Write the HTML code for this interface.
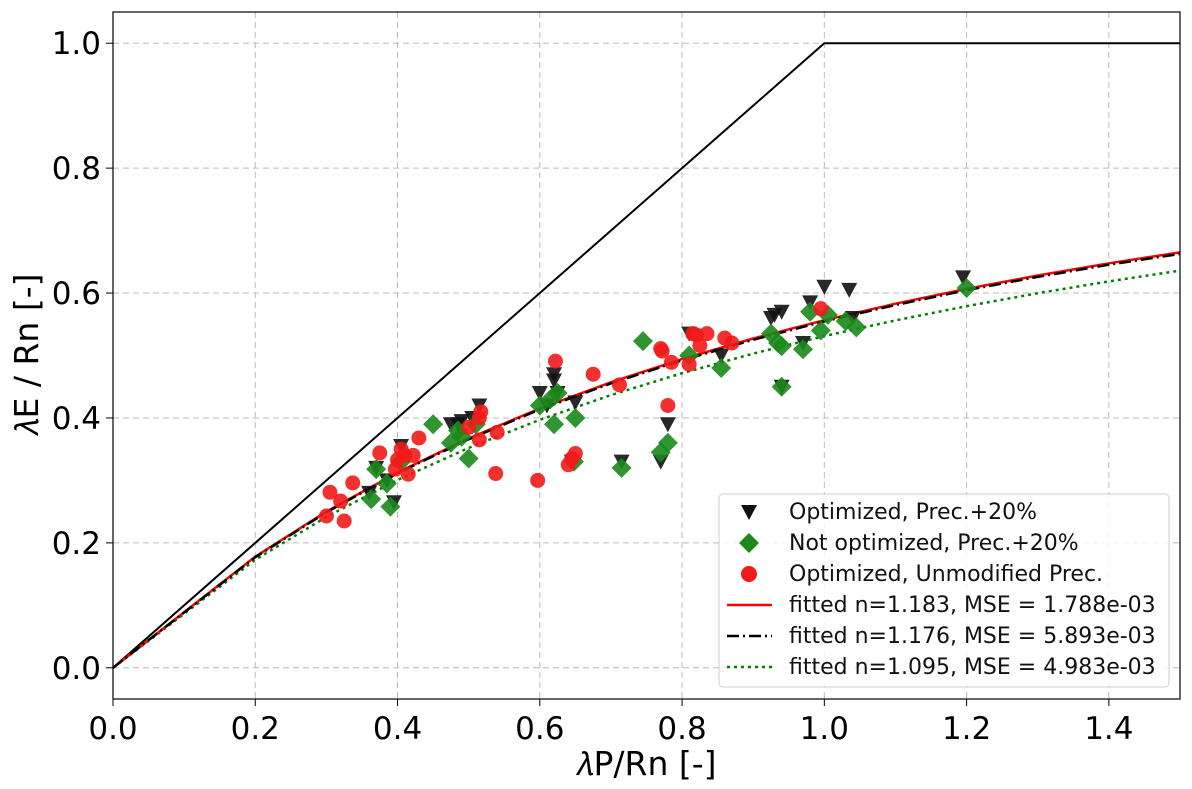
<!DOCTYPE html>
<html><head><meta charset="utf-8"><style>
body{margin:0;background:#fff}
svg{display:block;font-family:"DejaVu Sans","Liberation Sans",sans-serif}
</style></head><body>
<svg id="chart" width="1192" height="789" viewBox="0 0 1192 789" xmlns="http://www.w3.org/2000/svg">
<g id="grid"></g>
<g id="lines"></g>
<g id="points"></g>
<rect x="113" y="12" width="1067" height="687" fill="none" stroke="#000" stroke-width="1.2"/>
<g id="ticks"></g>
<text x="646" y="775" font-size="33" text-anchor="middle">𝜆P/Rn  [-]</text>
<text transform="translate(38,355) rotate(-90)" font-size="33" text-anchor="middle">𝜆E / Rn [-]</text>
<g>
<rect x="719" y="494" width="450" height="193" rx="4" fill="#fff" fill-opacity="0.85" stroke="#ccc"/>
<path d="M741,505 L757,505 L749,520 Z" fill="#111"/>
<path d="M749,533 L759,543 L749,553 L739,543 Z" fill="#1a8a1a"/>
<circle cx="749" cy="574" r="8" fill="#f21a1a"/>
<line x1="727" y1="605" x2="772" y2="605" stroke="red" stroke-width="2.5"/>
<line x1="727" y1="636" x2="772" y2="636" stroke="#000" stroke-width="2.5" stroke-dasharray="12,4,2,4"/>
<line x1="727" y1="667" x2="772" y2="667" stroke="green" stroke-width="2.5" stroke-dasharray="3,4"/>
<g font-size="22" fill="#111">
<text x="789" y="519">Optimized, Prec.+20%</text>
<text x="789" y="550">Not optimized, Prec.+20%</text>
<text x="789" y="581">Optimized, Unmodified Prec.</text>
<text x="789" y="612">fitted n=1.183, MSE = 1.788e-03</text>
<text x="789" y="643">fitted n=1.176, MSE = 5.893e-03</text>
<text x="789" y="674">fitted n=1.095, MSE = 4.983e-03</text>
</g></g>
</svg>
<script>
const xTicks=[0,0.2,0.4,0.6,0.8,1.0,1.2,1.4];
const xTickLabels=["0.0","0.2","0.4","0.6","0.8","1.0","1.2","1.4"];
const yTicks=[0,0.2,0.4,0.6,0.8,1.0];
const yTickLabels=["0.0","0.2","0.4","0.6","0.8","1.0"];
const fitX=[0,0.2,0.3,0.4,0.5,0.6,0.7,0.8,0.9,1.0,1.1,1.2,1.3,1.4,1.5];
const fitRed=[0,0.178,0.250,0.3127,0.3673,0.4151,0.4571,0.4942,0.5272,0.5566,0.5830,0.6067,0.6281,0.6477,0.665];
const fitBlack=[0,0.177,0.249,0.3115,0.3658,0.4135,0.4553,0.4923,0.5252,0.5546,0.5808,0.6045,0.6258,0.6454,0.6627];
const fitGreen=[0,0.1731,0.2416,0.3007,0.3521,0.3970,0.4366,0.4717,0.5030,0.5310,0.5562,0.5790,0.5997,0.6187,0.6360];
const oneX=[0,1,1.5];
const oneY=[0,1,1];
const triX=[0.36,0.37,0.385,0.395,0.405,0.475,0.485,0.49,0.505,0.515,0.6,0.62,0.62,0.625,0.65,0.645,0.715,0.77,0.78,0.81,0.855,0.925,0.93,0.94,0.94,0.97,0.98,1.0,1.035,1.04,1.195,0.61];
const triY=[0.28,0.32,0.30,0.265,0.355,0.39,0.39,0.395,0.40,0.42,0.44,0.47,0.46,0.44,0.425,0.33,0.33,0.33,0.39,0.535,0.5,0.56,0.565,0.57,0.45,0.52,0.585,0.61,0.605,0.56,0.625,0.42];
const diaX=[0.363,0.37,0.385,0.39,0.405,0.45,0.475,0.485,0.49,0.5,0.51,0.6,0.615,0.62,0.625,0.65,0.648,0.715,0.745,0.77,0.78,0.81,0.855,0.925,0.935,0.94,0.94,0.97,0.98,0.995,1.005,1.03,1.045,1.2];
const diaY=[0.27,0.318,0.295,0.258,0.33,0.39,0.36,0.38,0.37,0.335,0.39,0.42,0.43,0.39,0.44,0.40,0.33,0.32,0.523,0.345,0.36,0.5,0.48,0.535,0.52,0.515,0.45,0.51,0.57,0.54,0.565,0.555,0.545,0.608];
const cirX=[0.30,0.305,0.32,0.325,0.337,0.375,0.397,0.40,0.405,0.41,0.415,0.422,0.43,0.50,0.515,0.517,0.515,0.54,0.538,0.597,0.622,0.64,0.645,0.65,0.675,0.712,0.77,0.772,0.78,0.785,0.81,0.815,0.82,0.825,0.835,0.86,0.87,0.995];
const cirY=[0.243,0.281,0.267,0.235,0.296,0.344,0.318,0.333,0.35,0.34,0.31,0.34,0.368,0.385,0.365,0.41,0.40,0.377,0.311,0.300,0.491,0.325,0.335,0.343,0.47,0.453,0.511,0.507,0.42,0.489,0.486,0.535,0.533,0.516,0.535,0.528,0.52,0.575];

const NS="http://www.w3.org/2000/svg";
const X=v=>113+(v-0)/1.5*1067;
const Y=v=>699-(v+0.05)/1.1*687;
function mk(tag,attrs,parent){const e=document.createElementNS(NS,tag);for(const k in attrs)e.setAttribute(k,attrs[k]);parent.appendChild(e);return e;}
const grid=document.getElementById('grid'),ticks=document.getElementById('ticks'),lines=document.getElementById('lines'),pts=document.getElementById('points');
xTicks.forEach((t,i)=>{
  const g=mk('line',{x1:X(t),x2:X(t),y1:12,y2:699,stroke:'#bbb','stroke-dasharray':'6,4','stroke-width':1},grid);
  
  
  const tk=mk('line',{x1:X(t),x2:X(t),y1:699,y2:706,stroke:'#000'},ticks);
  
  
  const tx=mk('text',{x:X(t),y:739,'font-size':31,'text-anchor':'middle'},ticks);
  tx.textContent=xTickLabels[i];
  
  
});
yTicks.forEach((t,i)=>{
  const g=mk('line',{x1:113,x2:1180,y1:Y(t),y2:Y(t),stroke:'#bbb','stroke-dasharray':'6,4','stroke-width':1},grid);
  
  
  const tk=mk('line',{x1:106,x2:113,y1:Y(t),y2:Y(t),stroke:'#000'},ticks);
  
  
  const tx=mk('text',{x:101,y:Y(t)+11,'font-size':31,'text-anchor':'end'},ticks);
  tx.textContent=yTickLabels[i];
  
  
});
function poly(xs,ys,style,name){
  const d=xs.map((x,i)=>(i?'L':'M')+X(x).toFixed(1)+','+Y(ys[i]).toFixed(1)).join(' ');
  const p=mk('path',Object.assign({d:d,fill:'none'},style),lines);
  
  
}
poly(oneX,oneY,{stroke:'#000','stroke-width':2},'energy-limit-line');
poly(fitX,fitGreen,{stroke:'green','stroke-width':2.5,'stroke-dasharray':'3,4'},'fit-line-green');
poly(fitX,fitRed,{stroke:'red','stroke-width':2.5},'fit-line-red');
poly(fitX,fitBlack,{stroke:'#000','stroke-width':2.5,'stroke-dasharray':'12,4,2,4'},'fit-line-black');
triX.forEach((x,i)=>{
  const cx=X(x),cy=Y(triY[i]);
  const p=mk('path',{d:`M${cx-8},${cy-7} L${cx+8},${cy-7} L${cx},${cy+8} Z`,fill:'#111','fill-opacity':0.9},pts);
  
  
});
diaX.forEach((x,i)=>{
  const cx=X(x),cy=Y(diaY[i]);
  const p=mk('path',{d:`M${cx},${cy-10} L${cx+10},${cy} L${cx},${cy+10} L${cx-10},${cy} Z`,fill:'#1a8a1a','fill-opacity':0.9},pts);
  
  
});
cirX.forEach((x,i)=>{
  const c=mk('circle',{cx:X(x),cy:Y(cirY[i]),r:7.5,fill:'#f21a1a','fill-opacity':0.9},pts);
  
  
});
</script>
</body></html>
